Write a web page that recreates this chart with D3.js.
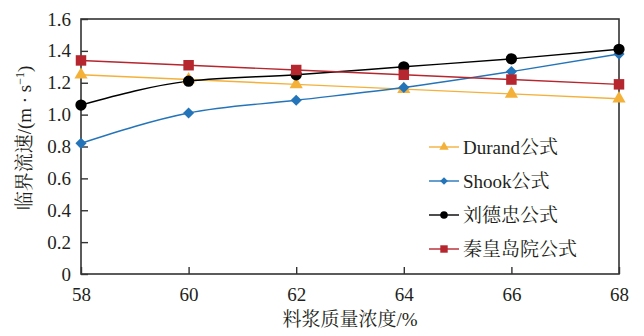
<!DOCTYPE html>
<html><head><meta charset="utf-8">
<script src="https://cdn.jsdelivr.net/npm/d3@7"></script>
<style>
html,body{margin:0;padding:0;background:#fff;}
svg{display:block;}
</style></head>
<body>
<svg id="chart" width="644" height="336"></svg>
<script>
const categories = [58, 60, 62, 64, 66, 68];
const durand = [1.25, 1.22, 1.19, 1.16, 1.13, 1.10];
const shook = [0.82, 1.01, 1.09, 1.17, 1.27, 1.38];
const liu = [1.06, 1.21, 1.25, 1.30, 1.35, 1.41];
const qhd = [1.34, 1.31, 1.28, 1.25, 1.22, 1.19];
const yTicks = [0, 0.2, 0.4, 0.6, 0.8, 1.0, 1.2, 1.4, 1.6];
const xTicks = [58, 60, 62, 64, 66, 68];
const seriesNames = ["Durand公式", "Shook公式", "刘德忠公式", "秦皇岛院公式"];

const FONT = "'Liberation Serif', 'DejaVu Serif', 'Noto Serif CJK SC', 'Noto Sans CJK SC', serif";

const series = [
  {name: seriesNames[0], values: durand, color: "#f4b13a", symbol: d3.symbolTriangle, size: 75, lsize: 38, rot: 0},
  {name: seriesNames[1], values: shook, color: "#2474b9", symbol: d3.symbolSquare, size: 62, lsize: 30, rot: 45},
  {name: seriesNames[2], values: liu, color: "#000000", symbol: d3.symbolCircle, size: 100, lsize: 45, rot: 0},
  {name: seriesNames[3], values: qhd, color: "#b5262e", symbol: d3.symbolSquare, size: 110, lsize: 55, rot: 0}
];

const svg = d3.select("#chart");
const L = 81, R = 619, T = 19, B = 274;
const x = d3.scaleLinear().domain([58, 68]).range([L, R]);
const y = d3.scaleLinear().domain([0, 1.6]).range([B, T]);
const axisColor = "#333333";
const textColor = "#231f20";

// frame
svg.append("rect").attr("x", L).attr("y", T).attr("width", R - L).attr("height", B - T)
  .attr("fill", "none").attr("stroke", axisColor).attr("stroke-width", 1.6);

// y axis
const ya = svg.append("g").attr("transform", `translate(${L},0)`)
  .call(d3.axisLeft(y).tickValues(yTicks).tickSize(-7).tickPadding(10)
    .tickFormat(d => d === 0 ? "0" : d3.format(".1f")(d)));
ya.attr("font-family", null);
ya.select(".domain").remove();
ya.selectAll("line").attr("stroke", axisColor).attr("stroke-width", 1.4);
ya.selectAll("text").style("font-family", FONT).style("font-size", "19px").attr("fill", textColor);

// x axis
const xa = svg.append("g").attr("transform", `translate(0,${B})`)
  .call(d3.axisBottom(x).tickValues(xTicks).tickSize(-7).tickPadding(14).tickFormat(d3.format("d")));
xa.attr("font-family", null);
xa.select(".domain").remove();
xa.selectAll("line").attr("stroke", axisColor).attr("stroke-width", 1.4);
xa.selectAll("text").style("font-family", FONT).style("font-size", "19px").attr("fill", textColor);

// axis titles
svg.append("text").attr("x", 350).attr("y", 326).attr("text-anchor", "middle")
  .style("font-family", FONT).style("font-size", "19px").attr("fill", textColor).text("料浆质量浓度/%");

const yt = svg.append("text").attr("transform", "translate(31,138) rotate(-90)")
  .attr("text-anchor", "middle").style("font-family", FONT).style("font-size", "19px").attr("fill", textColor);
yt.append("tspan").text("临界流速/(m · s");
yt.append("tspan").attr("dy", -7).style("font-size", "12px").text("−1");
yt.append("tspan").attr("dy", 7).text(")");

// lines
const curveFor = (i) => (i === 1 || i === 2) ? d3.curveMonotoneX : d3.curveLinear;
series.forEach((s, i) => {
  const line = d3.line().x((d, j) => x(categories[j])).y(d => y(d)).curve(curveFor(i));
  svg.append("path").datum(s.values).attr("d", line)
    .attr("fill", "none").attr("stroke", s.color).attr("stroke-width", 1.4);
});
series.forEach((s) => {
  svg.append("g").selectAll("path").data(s.values).join("path")
    .attr("transform", (d, j) => `translate(${x(categories[j])},${y(d)}) rotate(${s.rot})`)
    .attr("d", d3.symbol().type(s.symbol).size(s.size))
    .attr("fill", s.color);
});

// legend
const lg = svg.append("g");
const rowY = [147, 181, 215, 249];
series.forEach((s, i) => {
  const g = lg.append("g").attr("transform", `translate(0,${rowY[i]})`);
  g.append("line").attr("x1", 429).attr("x2", 459).attr("y1", 0).attr("y2", 0)
    .attr("stroke", s.color).attr("stroke-width", 1.4);
  g.append("path").attr("transform", `translate(444,0) rotate(${s.rot})`)
    .attr("d", d3.symbol().type(s.symbol).size(s.lsize)).attr("fill", s.color);
  g.append("text").attr("x", 463).attr("y", 6.5).style("font-family", FONT).style("font-size", "19px")
    .attr("fill", textColor).text(s.name);
});
</script>
</body></html>
